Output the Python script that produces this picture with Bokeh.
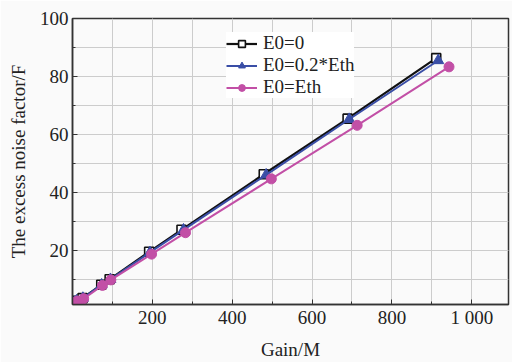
from bokeh.plotting import figure
from bokeh.models import Range1d, SingleIntervalTicker, Legend, LegendItem
from bokeh.embed import file_html
from bokeh.resources import INLINE

# Data
gain_e0_0 = [1, 5, 10, 25, 72, 93, 192, 273, 479, 689, 911]
f_e0_0 = [1.5, 2.0, 2.5, 3.4, 8.0, 9.9, 19.4, 27.0, 46.2, 65.4, 86.3]

gain_e0_02 = [1, 5, 10, 26, 73, 95, 194, 278, 485, 693, 916]
f_e0_02 = [1.5, 2.0, 2.5, 3.4, 8.0, 9.9, 19.2, 27.0, 46.0, 65.2, 85.5]

gain_e0_eth = [1, 6, 12, 28, 75, 96, 198, 283, 498, 713, 943]
f_e0_eth = [1.4, 1.9, 2.4, 3.2, 7.8, 9.7, 18.6, 26.0, 44.6, 63.1, 83.3]

labels = ["E0=0", "E0=0.2*Eth", "E0=Eth"]
x_label = "Gain/M"
y_label = "The excess noise factor/F"

FONT = "Liberation Serif"
BG = "#fafafa"

p = figure(width=512, height=362, output_backend="svg", toolbar_location=None,
           x_range=Range1d(0, 1092), y_range=Range1d(1.2, 100),
           min_border_left=72, min_border_right=4, min_border_top=18, min_border_bottom=56)
p.background_fill_color = BG
p.border_fill_color = BG
p.outline_line_color = "#333333"
p.outline_line_width = 1.5

p.xaxis.ticker = SingleIntervalTicker(interval=200, num_minor_ticks=2)
p.yaxis.ticker = SingleIntervalTicker(interval=20, num_minor_ticks=2)
p.xaxis.major_label_overrides = {0: "", 1000: "1 000"}

for ax in (p.xaxis[0], p.yaxis[0]):
    ax.axis_line_color = "#333333"
    ax.axis_line_width = 1.5
    ax.major_tick_in = 5
    ax.major_tick_out = 0
    ax.minor_tick_in = 3
    ax.minor_tick_out = 0
    ax.major_tick_line_color = "#333333"
    ax.minor_tick_line_color = "#333333"
    ax.major_label_text_font = FONT
    ax.major_label_text_font_size = "19px"
    ax.major_label_text_color = "#222222"
    ax.axis_label_text_font = FONT
    ax.axis_label_text_font_size = "19px"
    ax.axis_label_text_font_style = "normal"
    ax.axis_label_text_color = "#222222"
p.xaxis.major_label_standoff = 2
p.yaxis.major_label_standoff = 4
p.xaxis.axis_label = x_label
p.yaxis.axis_label = y_label
p.xaxis.axis_label_standoff = 8
p.yaxis.axis_label_standoff = 8

for g in (p.xgrid[0], p.ygrid[0]):
    g.grid_line_color = "#cccccc"
    g.grid_line_width = 1
    g.minor_grid_line_color = "#cccccc"
    g.minor_grid_line_width = 1

BLACK = "#111111"
BLUE = "#3a4ea6"
PINK = "#c24fa6"

l1 = p.line(gain_e0_0, f_e0_0, line_color=BLACK, line_width=2.2)
m1 = p.scatter(gain_e0_0, f_e0_0, marker="square", size=9, fill_color="white",
               line_color=BLACK, line_width=1.6)
l2 = p.line(gain_e0_02, f_e0_02, line_color=BLUE, line_width=2)
m2 = p.scatter(gain_e0_02, f_e0_02, marker="triangle", size=11, fill_color=BLUE,
               line_color=BLUE)
l3 = p.line(gain_e0_eth, f_e0_eth, line_color=PINK, line_width=2)
m3 = p.scatter(gain_e0_eth, f_e0_eth, marker="circle", size=10, fill_color=PINK,
               line_color=PINK)

legend = Legend(items=[LegendItem(label=labels[0], renderers=[l1, m1]),
                       LegendItem(label=labels[1], renderers=[l2, m2]),
                       LegendItem(label=labels[2], renderers=[l3, m3])],
                location=(154, 206))
legend.label_text_font = FONT
legend.label_text_font_size = "19px"
legend.label_text_color = "#222222"
legend.label_height = 17
legend.glyph_height = 17
legend.glyph_width = 31
legend.label_standoff = 6
legend.spacing = -3
legend.padding = 4
legend.margin = 0
legend.border_line_color = None
legend.background_fill_color = "white"
legend.background_fill_alpha = 1.0
p.add_layout(legend, "center")

open("out.html", "w").write(file_html(p, INLINE))
